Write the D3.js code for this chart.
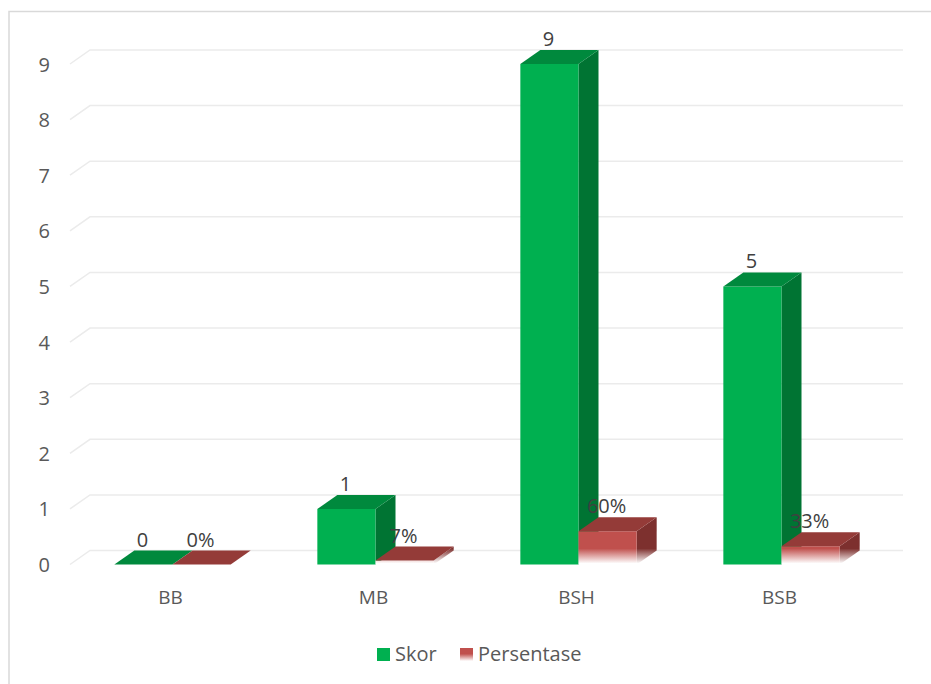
<!DOCTYPE html>
<html>
<head>
<meta charset="utf-8">
<script src="https://cdn.jsdelivr.net/npm/d3@7"></script>
<style>
  html, body { margin: 0; padding: 0; background: #ffffff; }
  svg { display: block; }
  text { font-family: "Open Sans", "Liberation Sans", sans-serif; }
</style>
</head>
<body>
<svg id="chart" width="931" height="684"></svg>
<script>
const categories = ["BB", "MB", "BSH", "BSB"];
const skor = [0, 1, 9, 5];
const persentase = [0, 0.07, 0.60, 0.33];
const yTicks = [0, 1, 2, 3, 4, 5, 6, 7, 8, 9];
const seriesNames = ["Skor", "Persentase"];

const svg = d3.select("#chart");
const W = 931, H = 684;
const DX = 20, DY = -14;

const x = d3.scaleBand().domain(categories).range([71, 883]).paddingInner(0.427).paddingOuter(0.2135);
const inner = d3.scaleBand().domain(seriesNames).range([0, x.bandwidth()]);
const y = d3.scaleLinear().domain([0, 9]).range([564.5, 64]);

// border
svg.append("rect").attr("x", 9).attr("y", 11.5).attr("width", W + 10).attr("height", H + 10)
  .attr("fill", "none").attr("stroke", "#d9d9d9").attr("stroke-width", 1.5);

const defs = svg.append("defs");
function fadeGrad(id, color) {
  const g = defs.append("linearGradient").attr("id", id)
    .attr("gradientUnits", "userSpaceOnUse")
    .attr("x1", 0).attr("x2", 0).attr("y1", y(0) - 16).attr("y2", y(0) - 1);
  g.append("stop").attr("offset", 0).attr("stop-color", color).attr("stop-opacity", 1);
  g.append("stop").attr("offset", 1).attr("stop-color", "#ffffff").attr("stop-opacity", 1);
}
fadeGrad("redFront", "#C0504D");
fadeGrad("redSide", "#7D302E");
const lg = defs.append("linearGradient").attr("id", "redLegend").attr("x1", 0).attr("x2", 0).attr("y1", 0).attr("y2", 1);
lg.append("stop").attr("offset", 0.45).attr("stop-color", "#C0504D");
lg.append("stop").attr("offset", 1).attr("stop-color", "#ffffff");

// gridlines (wall + floor diagonal)
const x0 = x.range()[0] - 1, x1 = x.range()[1];
svg.append("g").selectAll("path").data(yTicks).join("path")
  .attr("d", d => `M${x0},${y(d)} L${x0 + DX},${y(d) + DY} L${x1 + DX},${y(d) + DY}`)
  .attr("fill", "none").attr("stroke", "#ebebeb").attr("stroke-width", 1.5);

// y tick labels
svg.append("g").selectAll("text").data(yTicks).join("text")
  .attr("x", 50).attr("y", d => y(d) + 7.5)
  .attr("text-anchor", "end").attr("font-size", 20).attr("fill", "#595959")
  .text(d => d);

// bars
const colors = {
  Skor: { front: "#00B050", top: "#00893D", side: "#007433" },
  Persentase: { front: "url(#redFront)", top: "#943B38", side: "url(#redSide)" }
};
const bars = [];
categories.forEach((c, i) => {
  bars.push({ cat: c, s: "Skor", v: skor[i], label: String(skor[i]) });
  bars.push({ cat: c, s: "Persentase", v: persentase[i], label: Math.round(persentase[i] * 100) + "%" });
});

const gBars = svg.append("g");
bars.forEach(b => {
  const xl = x(b.cat) + inner(b.s), xr = xl + inner.bandwidth();
  const yt = y(b.v), yb = y(0);
  const col = colors[b.s];
  const g = gBars.append("g");
  g.append("path").attr("d", `M${xr},${yt} L${xr + DX},${yt + DY} L${xr + DX},${yb + DY} L${xr},${yb} Z`)
    .attr("fill", col.side);
  g.append("path").attr("d", `M${xl},${yt} L${xr},${yt} L${xr},${yb} L${xl},${yb} Z`)
    .attr("fill", col.front);
  g.append("path").attr("d", `M${xl},${yt} L${xl + DX},${yt + DY} L${xr + DX},${yt + DY} L${xr},${yt} Z`)
    .attr("fill", col.top);
});

// value labels
svg.append("g").selectAll("text").data(bars).join("text")
  .attr("x", d => x(d.cat) + inner(d.s) + inner.bandwidth() / 2 - 1)
  .attr("y", d => y(d.v) + DY - 4)
  .attr("text-anchor", "middle").attr("font-size", 20).attr("fill", "#404040")
  .text(d => d.label);

// category labels
svg.append("g").selectAll("text").data(categories).join("text")
  .attr("x", d => x(d) + x.bandwidth() / 2 - 2).attr("y", 604)
  .attr("text-anchor", "middle").attr("font-size", 19).attr("fill", "#595959")
  .text(d => d);

// legend
const legendItems = [
  { name: "Skor", fill: "#00B050", sx: 377, tx: 395 },
  { name: "Persentase", fill: "url(#redLegend)", sx: 460, tx: 478 }
];
const lgG = svg.append("g");
legendItems.forEach(it => {
  lgG.append("rect").attr("x", it.sx).attr("y", 648).attr("width", 13).attr("height", 13).attr("fill", it.fill);
  lgG.append("text").attr("x", it.tx).attr("y", 661).attr("font-size", 20).attr("fill", "#595959").text(it.name);
});
</script>
</body>
</html>
